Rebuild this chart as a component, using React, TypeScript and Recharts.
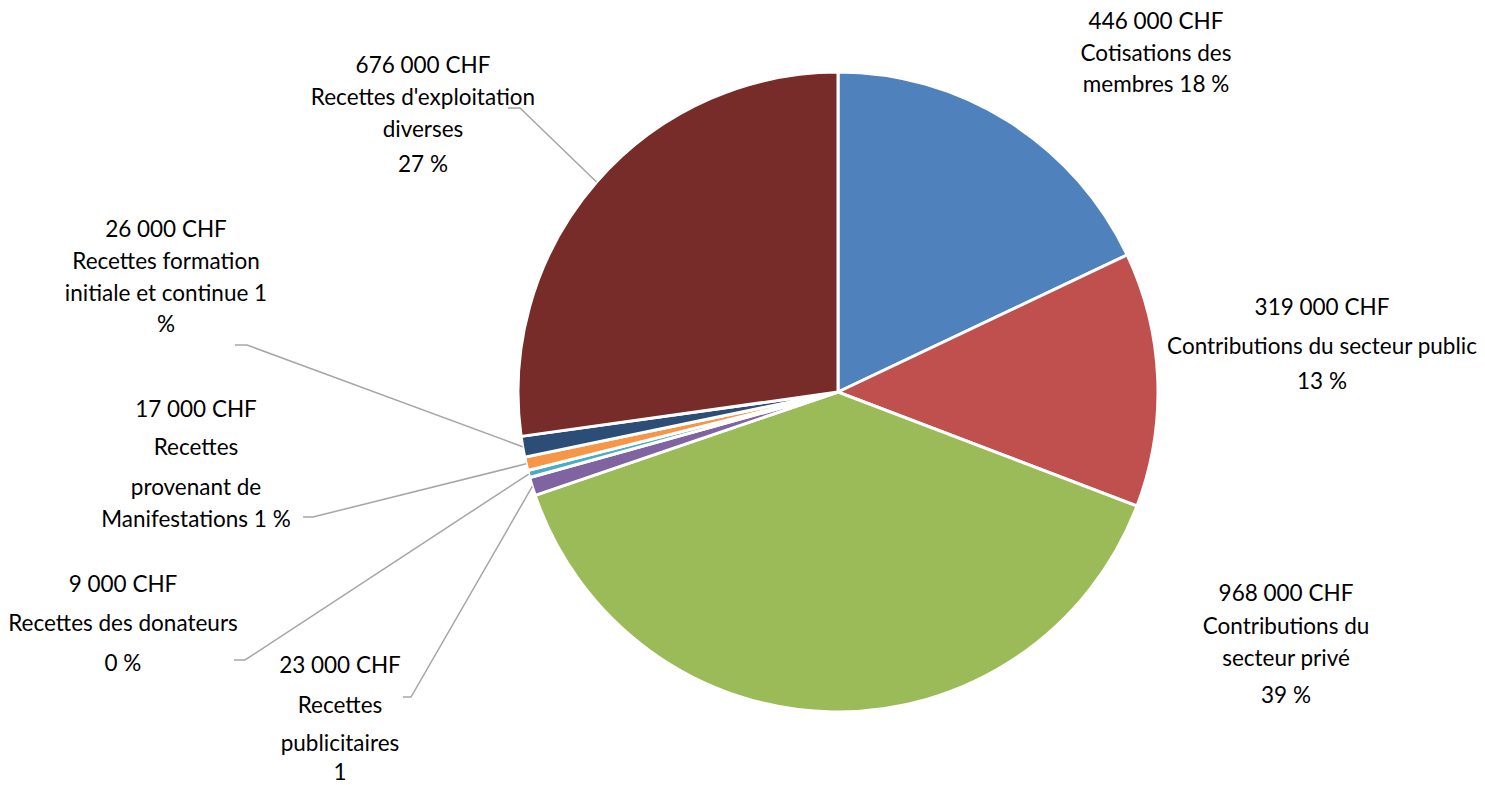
import { PieChart, Pie, Cell } from 'recharts';

// slices go clockwise from 12 o'clock
const categories = [
  'Cotisations des membres',
  'Contributions du secteur public',
  'Contributions du secteur privé',
  'Recettes publicitaires',
  'Recettes des donateurs',
  'Recettes provenant de Manifestations',
  'Recettes formation initiale et continue',
  "Recettes d'exploitation diverses",
];

const amounts = [446000, 319000, 968000, 23000, 9000, 17000, 26000, 676000];

// label text as wrapped in the original (under the amount line)
const labelLines = [
  ['Cotisations des', 'membres 18 %'],
  ['Contributions du secteur public', '13 %'],
  ['Contributions du', 'secteur privé', '39 %'],
  ['Recettes', 'publicitaires', '1'],
  ['Recettes des donateurs', '0 %'],
  ['Recettes', 'provenant de', 'Manifestations 1 %'],
  ['Recettes formation', 'initiale et continue 1', '%'],
  ["Recettes d'exploitation", 'diverses', '27 %'],
];

const colors = ['#4F81BD', '#C0504D', '#9BBB59', '#8064A2', '#4BACC6', '#F79646', '#2C4D75', '#772C2A'];

// label placement: centre x and the y of each line
const labelLayout = [
  { x: 1156, ys: [20, 52, 83] },
  { x: 1322, ys: [306, 345, 380] },
  { x: 1286, ys: [592, 625, 657, 694] },
  { x: 340, ys: [664, 704, 742, 771] },
  { x: 123, ys: [583, 622, 662] },
  { x: 196, ys: [408, 446, 486, 518] },
  { x: 166, ys: [228, 260, 292, 323] },
  { x: 423, ys: [64, 96, 128, 163] },
];

// leader lines: elbow point and tail x, null = no line
const leaders: Array<{ ex: number; ey: number; tx: number } | null> = [
  null,
  null,
  null,
  { ex: 411, ey: 697, tx: 403 },
  { ex: 245, ey: 660, tx: 234 },
  { ex: 313, ey: 517, tx: 303 },
  { ex: 247, ey: 345, tx: 235 },
  { ex: 520, ey: 108, tx: 508 },
];

const data = categories.map((name, i) => ({ name, value: amounts[i] }));

const fmtChf = (v: number) => v.toLocaleString('en-US').replace(/,/g, ' ') + ' CHF';

const RAD = Math.PI / 180;

const renderLabel = (props: any) => {
  const { cx, cy, midAngle, outerRadius, index, value } = props;
  const lay = labelLayout[index];
  const lead = leaders[index];
  const lines = [fmtChf(value), ...labelLines[index]];
  const sx = cx + outerRadius * Math.cos(-midAngle * RAD);
  const sy = cy + outerRadius * Math.sin(-midAngle * RAD);
  return (
    <g key={'lbl-' + index}>
      {lead && (
        <polyline
          points={`${sx},${sy} ${lead.ex},${lead.ey} ${lead.tx},${lead.ey}`}
          fill="none"
          stroke="#A6A6A6"
          strokeWidth={1.5}
        />
      )}
      {lines.map((t, j) => (
        <text
          key={j}
          x={lay.x}
          y={lay.ys[j]}
          textAnchor="middle"
          dominantBaseline="central"
          fill="#000"
          fontSize={22.5}
          fontFamily="Lato, 'Open Sans', sans-serif"
        >
          {t}
        </text>
      ))}
    </g>
  );
};

export default function App() {
  return (
    <div style={{ width: 1485, height: 785, background: '#fff' }}>
      <style>{'body{margin:0;}'}</style>
      <PieChart width={1485} height={785} margin={{ top: 0, right: 0, bottom: 0, left: 0 }}>
        <Pie
          data={data}
          dataKey="value"
          nameKey="name"
          cx={838}
          cy={392}
          outerRadius={320}
          startAngle={90}
          endAngle={-270}
          stroke="#fff"
          strokeWidth={3}
          label={renderLabel}
          labelLine={false}
          isAnimationActive={false}
        >
          {data.map((d, i) => (
            <Cell key={d.name} fill={colors[i]} />
          ))}
        </Pie>
      </PieChart>
    </div>
  );
}
